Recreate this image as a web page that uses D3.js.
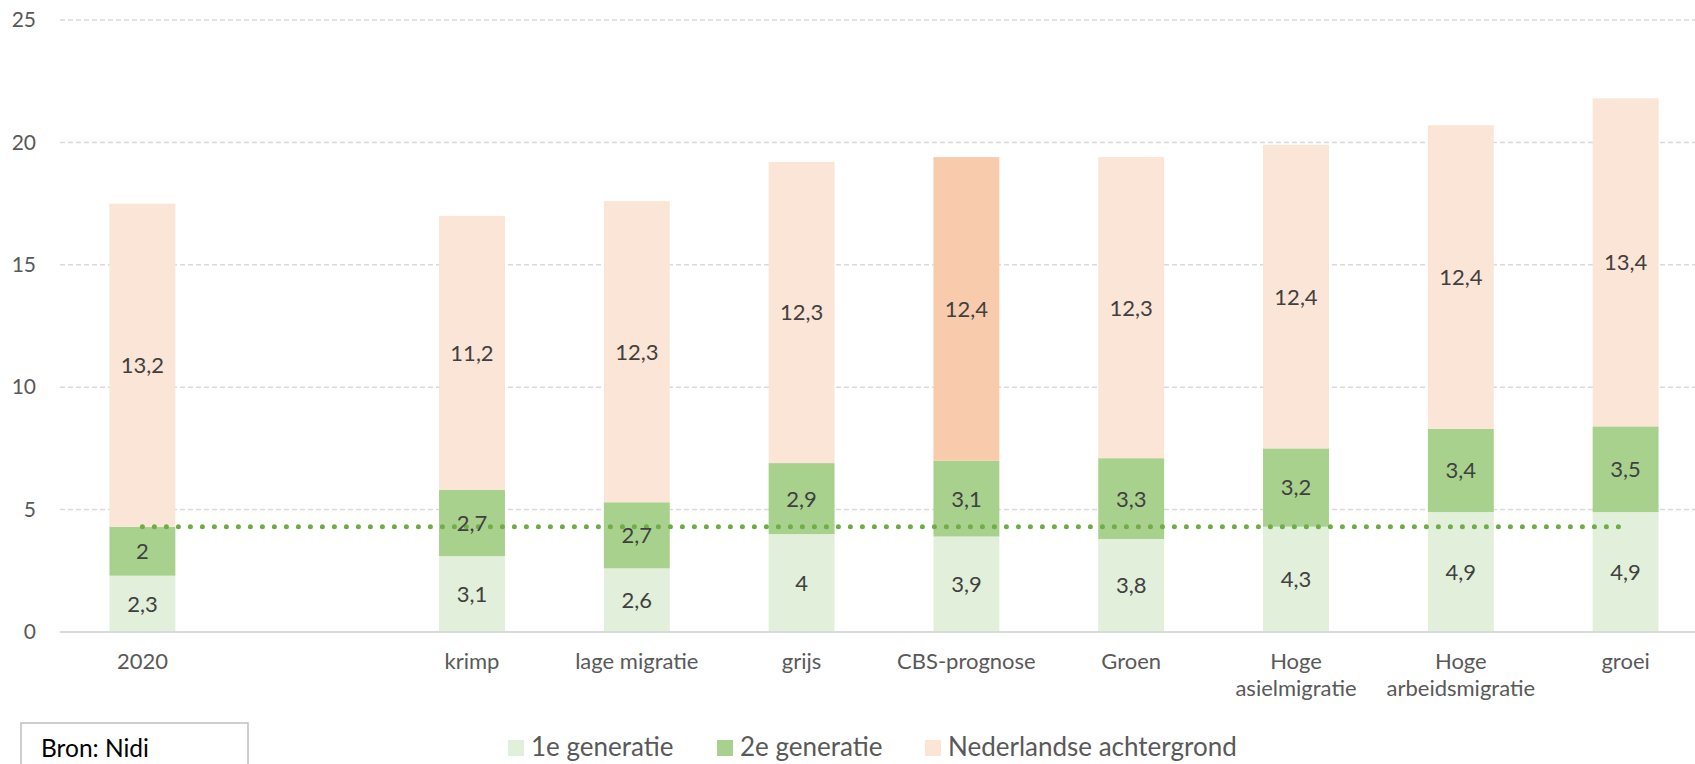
<!DOCTYPE html>
<html lang="nl">
<head>
    <meta charset="UTF-8">
    <title>Bevolking per scenario</title>
    <script src="https://d3js.org/d3.v7.min.js"></script>
    <style>
        body {
            margin: 0;
            background: #ffffff;
            font-family: Lato, "Open Sans", sans-serif;
        }
        svg { display: block; }
    </style>
</head>
<body>
    <svg></svg>

    <script>
        // data (miljoen inwoners)
        const categories = ["2020", "krimp", "lage migratie", "grijs", "CBS-prognose", "Groen", "Hoge asielmigratie", "Hoge arbeidsmigratie", "groei"];
        const gen1 = [2.3, 3.1, 2.6, 4, 3.9, 3.8, 4.3, 4.9, 4.9];
        const gen2 = [2, 2.7, 2.7, 2.9, 3.1, 3.3, 3.2, 3.4, 3.5];
        const dutch = [13.2, 11.2, 12.3, 12.3, 12.4, 12.3, 12.4, 12.4, 13.4];
        const seriesNames = ["1e generatie", "2e generatie", "Nederlandse achtergrond"];
        const yTicks = [0, 5, 10, 15, 20, 25];
        const highlighted = "CBS-prognose";
        const source = "Bron: Nidi";

        const colors = ["#e2efda", "#a9d18e", "#fbe5d6"];
        const highlightColor = "#f8cbad";

        const W = 1695, H = 764;
        const svg = d3.select("svg").attr("width", W).attr("height", H);

        // empty slot between 2020 and the scenarios
        const slots = [categories[0], "__gap", ...categories.slice(1)];

        const x = d3.scaleBand()
            .domain(slots)
            .range([60, 1708])
            .paddingInner(0.6)
            .paddingOuter(0.3);

        const y = d3.scaleLinear()
            .domain([0, 25])
            .range([632, 20]);

        // grid
        svg.append("g")
            .selectAll("line")
            .data(yTicks.filter(d => d > 0))
            .enter().append("line")
            .attr("x1", x.range()[0])
            .attr("x2", x.range()[1])
            .attr("y1", d => y(d))
            .attr("y2", d => y(d))
            .attr("stroke", "#d9d9d9")
            .attr("stroke-width", 1.5)
            .attr("stroke-dasharray", "5,3");

        // y axis labels
        const yAxis = svg.append("g")
            .attr("transform", "translate(50,0)")
            .call(d3.axisLeft(y).tickValues(yTicks).tickSize(0).tickPadding(14));
        yAxis.select(".domain").remove();
        yAxis.selectAll("text")
            .attr("fill", "#595959")
            .style("font-family", "Lato, sans-serif")
            .style("font-size", "21px");

        // stacked bars
        const rows = categories.map((c, i) => ({ cat: c, v: [gen1[i], gen2[i], dutch[i]] }));
        const segs = [];
        rows.forEach(r => {
            let base = 0;
            r.v.forEach((v, k) => {
                segs.push({ cat: r.cat, k: k, y0: base, y1: base + v, v: v });
                base += v;
            });
        });

        svg.append("g")
            .selectAll("rect")
            .data(segs)
            .enter().append("rect")
            .attr("x", d => x(d.cat))
            .attr("width", x.bandwidth())
            .attr("y", d => y(d.y1))
            .attr("height", d => y(d.y0) - y(d.y1))
            .attr("fill", d => (d.k === 2 && d.cat === highlighted) ? highlightColor : colors[d.k]);

        // x axis line
        svg.append("line")
            .attr("x1", x.range()[0])
            .attr("x2", x.range()[1])
            .attr("y1", y(0))
            .attr("y2", y(0))
            .attr("stroke", "#d9d9d9")
            .attr("stroke-width", 2);

        // dotted reference line: migrant total in 2020
        const level = gen1[0] + gen2[0];
        const refLine = d3.line()
            .x(d => x(d) + x.bandwidth() / 2)
            .y(() => y(level));
        svg.append("path")
            .datum([categories[0], categories[categories.length - 1]])
            .attr("d", refLine)
            .attr("fill", "none")
            .attr("stroke", "#70ad47")
            .attr("stroke-width", 5)
            .attr("stroke-linecap", "round")
            .attr("stroke-dasharray", "0,12");

        // data labels
        svg.append("g")
            .selectAll("text")
            .data(segs)
            .enter().append("text")
            .attr("x", d => x(d.cat) + x.bandwidth() / 2)
            .attr("y", d => y((d.y0 + d.y1) / 2))
            .attr("dy", "0.36em")
            .attr("text-anchor", "middle")
            .attr("fill", "#404040")
            .style("font-size", "22px")
            .text(d => String(d.v).replace(".", ","));

        // category labels
        const xAxis = svg.append("g")
            .attr("transform", "translate(0," + y(0) + ")")
            .call(d3.axisBottom(x).tickSize(0).tickPadding(0).tickFormat(d => d === "__gap" ? "" : d));
        xAxis.select(".domain").remove();
        xAxis.selectAll("text")
            .attr("fill", "#595959")
            .attr("dy", null)
            .style("font-family", "Lato, sans-serif")
            .style("font-size", "22px")
            .call(wrap, x.step() - 10);

        function wrap(text, width) {
            text.each(function() {
                const t = d3.select(this);
                const words = t.text().split(/\s+/);
                t.text(null);
                let line = [];
                let lineNo = 0;
                let tspan = t.append("tspan").attr("x", 0).attr("y", 37);
                words.forEach(w => {
                    line.push(w);
                    tspan.text(line.join(" "));
                    if (tspan.node().getComputedTextLength() > width && line.length > 1) {
                        line.pop();
                        tspan.text(line.join(" "));
                        line = [w];
                        lineNo++;
                        tspan = t.append("tspan").attr("x", 0).attr("y", 37 + lineNo * 27).text(w);
                    }
                });
            });
        }

        // legend
        const legendX = [508, 717, 925];
        const legend = svg.append("g")
            .selectAll("g")
            .data(seriesNames)
            .enter().append("g")
            .attr("transform", (d, i) => "translate(" + legendX[i] + ",740)");

        legend.append("rect")
            .attr("width", 16)
            .attr("height", 16)
            .attr("fill", (d, i) => colors[i]);

        legend.append("text")
            .attr("x", 23)
            .attr("y", 16)
            .attr("fill", "#595959")
            .style("font-size", "26px")
            .text(d => d);

        // source box
        svg.append("rect")
            .attr("x", 21)
            .attr("y", 723)
            .attr("width", 227)
            .attr("height", 60)
            .attr("fill", "#ffffff")
            .attr("stroke", "#bfbfbf")
            .attr("stroke-width", 1.5);

        svg.append("text")
            .attr("x", 41)
            .attr("y", 757)
            .attr("fill", "#000000")
            .style("font-size", "24.5px")
            .text(source);
    </script>
</body>
</html>
